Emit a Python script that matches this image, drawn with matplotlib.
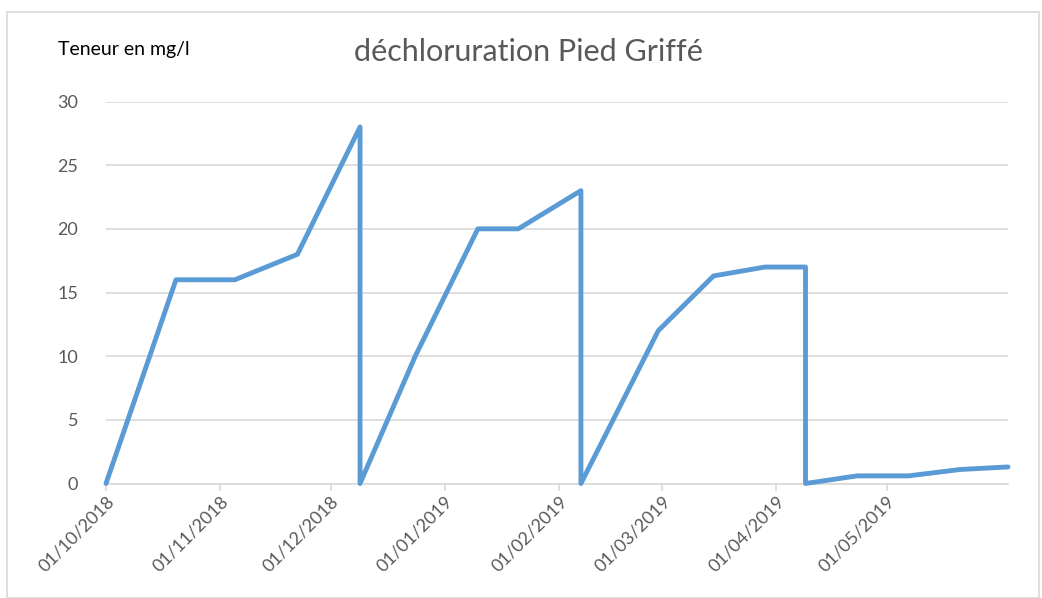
import matplotlib
matplotlib.use('Agg')
import matplotlib.pyplot as plt
import matplotlib.dates as mdates
import pandas as pd
from matplotlib.patches import Rectangle

plt.rcParams['font.family'] = ['Lato', 'DejaVu Sans']

# relevés de chlore (mg/l)
dates = ['2018-10-01', '2018-10-20', '2018-11-05', '2018-11-22', '2018-12-09',
         '2018-12-09', '2018-12-24', '2019-01-10', '2019-01-21', '2019-02-07',
         '2019-02-07', '2019-02-28', '2019-03-15', '2019-03-29', '2019-04-09',
         '2019-04-09', '2019-04-23', '2019-05-07', '2019-05-21', '2019-06-03']
teneur = [0, 16, 16, 18, 28,
          0, 10, 20, 20, 23,
          0, 12, 16.3, 17, 17,
          0, 0.6, 0.6, 1.1, 1.3]
month_ticks = ['2018-10-01', '2018-11-01', '2018-12-01', '2019-01-01',
               '2019-02-01', '2019-03-01', '2019-04-01', '2019-05-01']
y_ticks = [0, 5, 10, 15, 20, 25, 30]

x = pd.to_datetime(dates)
xt = pd.to_datetime(month_ticks)

fig = plt.figure(figsize=(10.42, 5.98), dpi=100)
fig.patches.append(Rectangle((0.007, 0.0), 0.99, 0.98, transform=fig.transFigure,
                             fill=False, edgecolor='#D9D9D9', lw=1.2))
ax = fig.add_axes([106 / 1042, 1 - 483.5 / 598, (1008 - 106) / 1042, (483.5 - 101.5) / 598])

ax.plot(x, teneur, color='#5B9BD5', lw=3.5, solid_joinstyle='round',
        solid_capstyle='round', clip_on=False, zorder=3)

ax.set_ylim(0, 30)
ax.set_xlim(pd.Timestamp('2018-10-01'), pd.Timestamp('2019-06-03'))
ax.set_yticks(y_ticks)
ax.set_xticks(xt)
ax.xaxis.set_major_formatter(mdates.DateFormatter('%d/%m/%Y'))
ax.grid(axis='y', color='#D9D9D9', lw=1.2)
ax.set_axisbelow(True)
for s in ['top', 'right', 'left']:
    ax.spines[s].set_visible(False)
ax.spines['bottom'].set_color('#D9D9D9')
ax.spines['bottom'].set_linewidth(1.2)
ax.tick_params(axis='y', length=0, pad=20, labelsize=13, labelcolor='#595959')
ax.tick_params(axis='x', length=5, color='#D9D9D9', width=1.2, labelsize=13,
               labelcolor='#595959', pad=2)
plt.setp(ax.get_xticklabels(), rotation=45, ha='right', rotation_mode='anchor')

fig.text(528 / 1042, 1 - 52 / 598, 'déchloruration Pied Griffé', ha='center', va='center',
         fontsize=22, color='#595959')
fig.text(58 / 1042, 1 - 50 / 598, 'Teneur en mg/l', ha='left', va='center',
         fontsize=14, color='black')

fig.savefig('out.png', dpi=100)
